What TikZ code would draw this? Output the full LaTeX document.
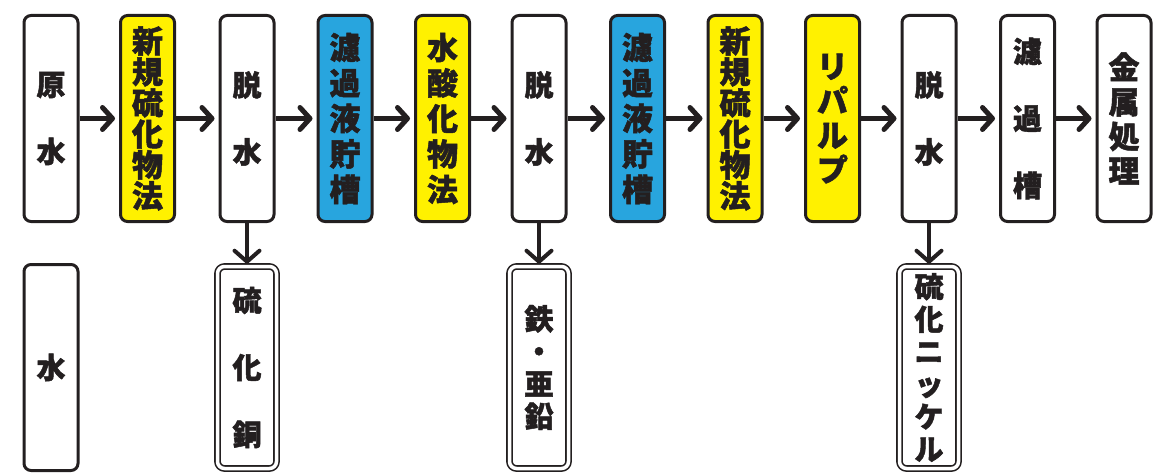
\documentclass[tikz,border=0pt]{standalone}
\usepackage{fontspec}
\newfontfamily\cjk{Noto Sans CJK JP}[BoldFeatures={FakeBold=1.6}]
\usetikzlibrary{arrows.meta}
\definecolor{procyellow}{HTML}{FFF100}
\definecolor{procblue}{HTML}{28A5DE}
\definecolor{ink}{HTML}{231F20}
\tikzstyle{box}=[rectangle, draw=ink
,rounded corners=7pt
,line width=3pt
,minimum width=54pt, minimum height=206pt
,inner sep=0pt, align=center, text=ink
]
\tikzstyle{prod}=[rectangle, draw=ink, fill=white
,rounded corners=7pt
,line width=1.6pt, double=white, double distance=3.5pt
,minimum width=59pt, minimum height=202pt
,inner sep=0pt, align=center, text=ink
]
\tikzstyle{tight}=[font=\cjk\bfseries\fontsize{31}{31}\selectfont]
\tikzstyle{five}=[font=\cjk\bfseries\fontsize{31}{35.5}\selectfont]
\tikzstyle{four}=[font=\cjk\bfseries\fontsize{31}{34.5}\selectfont]
\tikzstyle{loose}=[font=\cjk\bfseries\fontsize{29}{67}\selectfont]
\tikzstyle{small}=[font=\cjk\bfseries\fontsize{29}{32.5}\selectfont]
\tikzstyle{edge} = [draw=ink, line width=4.5pt, -{Straight Barb[length=10pt,width=22pt,line width=5pt,round]}, shorten >=4pt]
\tikzstyle{drop} = [draw=ink, line width=3.5pt, -{Straight Barb[length=11pt,width=25pt,line width=4pt,round]}, shorten >=2pt]

\begin{document}
\begin{tikzpicture}[x=1pt, y=-1pt]
    \useasboundingbox (0,0) rectangle (1167,476);
    % Main treatment line
    \foreach \pos/\name/\col/\fnt/\txt in {(51,118.5)/raw/white/loose/{原\\水},
        (147.5,118.5)/newsulfA/procyellow/tight/{新\\規\\硫\\化\\物\\法},
        (247,118.5)/dehydA/white/loose/{脱\\水},
        (345,118.5)/filtA/procblue/five/{濾\\過\\液\\貯\\槽},
        (442.5,118.5)/hydrox/procyellow/five/{水\\酸\\化\\物\\法},
        (539,118.5)/dehydB/white/loose/{脱\\水},
        (637.5,118.5)/filtB/procblue/five/{濾\\過\\液\\貯\\槽},
        (735,118.5)/newsulfB/procyellow/tight/{新\\規\\硫\\化\\物\\法},
        (832.5,118.5)/repulp/procyellow/four/{リ\\パ\\ル\\プ},
        (929,118.5)/dehydC/white/loose/{脱\\水},
        (1027.5,118.5)/tank/white/loose/{濾\\過\\槽},
        (1124,118.5)/metal/white/four/{金\\属\\処\\理},
        (51,367.5)/water/white/loose/{水}}
        \node[box, fill=\col, \fnt] (\name) at \pos {\txt};

    % Recovered products
    \foreach \pos/\name/\fnt/\txt in {(247,367.5)/cus/loose/{硫\\化\\銅},
        (539,367.5)/fezn/small/{鉄\\・\\亜\\鉛},
        (929,367.5)/nis/small/{硫\\化\\ニ\\ッ\\ケ\\ル}}
        \node[prod, \fnt] (\name) at \pos {\txt};

    % Connect stages
    \foreach \source/ \dest in {raw/newsulfA, newsulfA/dehydA, dehydA/filtA, filtA/hydrox, hydrox/dehydB, dehydB/filtB, filtB/newsulfB, newsulfB/repulp, repulp/dehydC, dehydC/tank, tank/metal}
        \path[edge] (\source) -- (\dest);
    \foreach \source/ \dest in {dehydA/cus, dehydB/fezn, dehydC/nis}
        \path[drop] (\source.south) -- (\dest.north);
\end{tikzpicture}
\end{document}
